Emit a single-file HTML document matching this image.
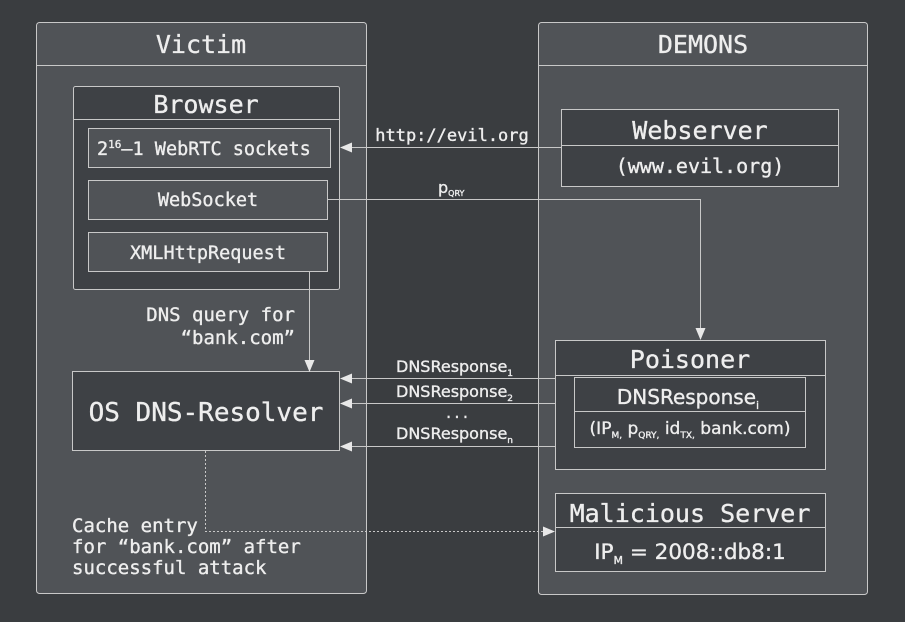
<!DOCTYPE html>
<html><head><style>
html,body{margin:0;padding:0;background:#3a3d40;}
svg{display:block}
.m{font-family:"DejaVu Sans Mono","Liberation Mono",monospace;fill:#eeeeee;stroke:#eeeeee;stroke-width:0.35}
.s{font-family:"DejaVu Sans","Liberation Sans",sans-serif;fill:#eeeeee;stroke:#eeeeee;stroke-width:0.35}
</style></head><body>
<svg width="905" height="622" viewBox="0 0 905 622" xmlns="http://www.w3.org/2000/svg">
<defs><marker id="a" markerWidth="12" markerHeight="10" refX="11" refY="5" orient="auto" markerUnits="userSpaceOnUse"><path d="M0,0 L12,5 L0,10 Z" fill="#e8e8e8"/></marker></defs>
<rect width="905" height="622" fill="#3a3d40"/>
<rect x="36.5" y="22.5" width="330" height="571" rx="3" fill="#505357" stroke="#c8c8c8"/>
<line x1="36" y1="65.5" x2="367" y2="65.5" stroke="#c8c8c8"/>
<text x="201" y="53" class="m" font-size="25" text-anchor="middle">Victim</text>
<rect x="538.5" y="22.5" width="329" height="572" rx="3" fill="#505357" stroke="#c8c8c8"/>
<line x1="538" y1="65.5" x2="868" y2="65.5" stroke="#c8c8c8"/>
<text x="703" y="53" class="m" font-size="25" text-anchor="middle">DEMONS</text>
<rect x="73.5" y="86.5" width="266" height="203" rx="2" fill="#3e4145" stroke="#c8c8c8"/>
<line x1="73" y1="119.5" x2="340" y2="119.5" stroke="#c8c8c8"/>
<text x="206" y="113" class="m" font-size="25" text-anchor="middle">Browser</text>
<rect x="88.5" y="128.5" width="242" height="39" fill="#505357" stroke="#c8c8c8"/>
<text x="97" y="155" class="m" font-size="18.5">2<tspan font-size="11" dy="-7">16</tspan><tspan dy="7">–1 WebRTC sockets</tspan></text>
<rect x="88.5" y="180.5" width="239" height="39" fill="#505357" stroke="#c8c8c8"/>
<text x="208" y="206" class="m" font-size="18.5" text-anchor="middle">WebSocket</text>
<rect x="88.5" y="232.5" width="239" height="39" fill="#505357" stroke="#c8c8c8"/>
<text x="208" y="259" class="m" font-size="18.5" text-anchor="middle">XMLHttpRequest</text>
<rect x="72.5" y="371.5" width="267" height="79" fill="#3e4145" stroke="#c8c8c8"/>
<text x="206" y="421" class="m" font-size="26" text-anchor="middle">OS DNS-Resolver</text>
<rect x="561.5" y="109.5" width="277" height="77" fill="#3e4145" stroke="#c8c8c8"/>
<line x1="561" y1="145.5" x2="839" y2="145.5" stroke="#c8c8c8"/>
<text x="700" y="139" class="m" font-size="25" text-anchor="middle">Webserver</text>
<text x="700" y="173" class="m" font-size="20" text-anchor="middle">(www.evil.org)</text>
<rect x="555.5" y="340.5" width="270" height="129" fill="#3e4145" stroke="#c8c8c8"/>
<line x1="555" y1="375.5" x2="826" y2="375.5" stroke="#c8c8c8"/>
<text x="690" y="368" class="m" font-size="25" text-anchor="middle">Poisoner</text>
<rect x="574.5" y="377.5" width="231" height="70" fill="#3e4145" stroke="#c8c8c8"/>
<line x1="574" y1="411.5" x2="806" y2="411.5" stroke="#c8c8c8"/>
<text x="688" y="404" class="s" font-size="20" text-anchor="middle">DNSResponse<tspan font-size="11" dy="5">i</tspan></text>
<text x="690" y="434" class="s" font-size="17" text-anchor="middle">(IP<tspan font-size="9" dy="4">M,</tspan><tspan dy="-4"> p</tspan><tspan font-size="9" dy="4">QRY,</tspan><tspan dy="-4"> id</tspan><tspan font-size="9" dy="4">TX,</tspan><tspan dy="-4"> bank.com)</tspan></text>
<rect x="555.5" y="493.5" width="270" height="78" fill="#3e4145" stroke="#c8c8c8"/>
<line x1="555" y1="527.5" x2="826" y2="527.5" stroke="#c8c8c8"/>
<text x="690" y="522" class="m" font-size="25" text-anchor="middle">Malicious Server</text>
<text x="690" y="559" class="s" font-size="21.5" text-anchor="middle">IP<tspan font-size="11" dy="5">M</tspan><tspan dy="-5"> = 2008::db8:1</tspan></text>
<line x1="561" y1="147.5" x2="341" y2="147.5" stroke="#c8c8c8" marker-end="url(#a)"/>
<text x="452" y="141" class="m" font-size="17" text-anchor="middle">http://evil.org</text>
<polyline points="327,199.5 700.5,199.5 700.5,339" fill="none" stroke="#c8c8c8" marker-end="url(#a)"/>
<text x="438" y="193" class="s" font-size="16">p<tspan font-size="8" dy="3">QRY</tspan></text>
<line x1="309.5" y1="271" x2="309.5" y2="371" stroke="#c8c8c8" marker-end="url(#a)"/>
<text x="295" y="321" class="m" font-size="19" text-anchor="end">DNS query for</text>
<text x="295" y="344" class="m" font-size="19" text-anchor="end">“bank.com”</text>
<line x1="555" y1="378.5" x2="341" y2="378.5" stroke="#c8c8c8" marker-end="url(#a)"/>
<line x1="555" y1="403.5" x2="341" y2="403.5" stroke="#c8c8c8" marker-end="url(#a)"/>
<line x1="555" y1="446.5" x2="341" y2="446.5" stroke="#c8c8c8" marker-end="url(#a)"/>
<text x="396" y="372" class="s" font-size="16">DNSResponse<tspan font-size="9" dy="4">1</tspan></text>
<text x="396" y="397" class="s" font-size="16">DNSResponse<tspan font-size="9" dy="4">2</tspan></text>
<text x="457" y="418" class="m" font-size="14" text-anchor="middle">...</text>
<text x="396" y="439" class="s" font-size="16">DNSResponse<tspan font-size="9" dy="4">n</tspan></text>
<polyline points="205.5,451 205.5,531.5 554,531.5" fill="none" stroke="#c8c8c8" stroke-dasharray="2,2" marker-end="url(#a)"/>
<text x="72" y="532" class="m" font-size="19">Cache entry</text>
<text x="72" y="553" class="m" font-size="19">for “bank.com” after</text>
<text x="72" y="574" class="m" font-size="19">successful attack</text>
</svg>
</body></html>
